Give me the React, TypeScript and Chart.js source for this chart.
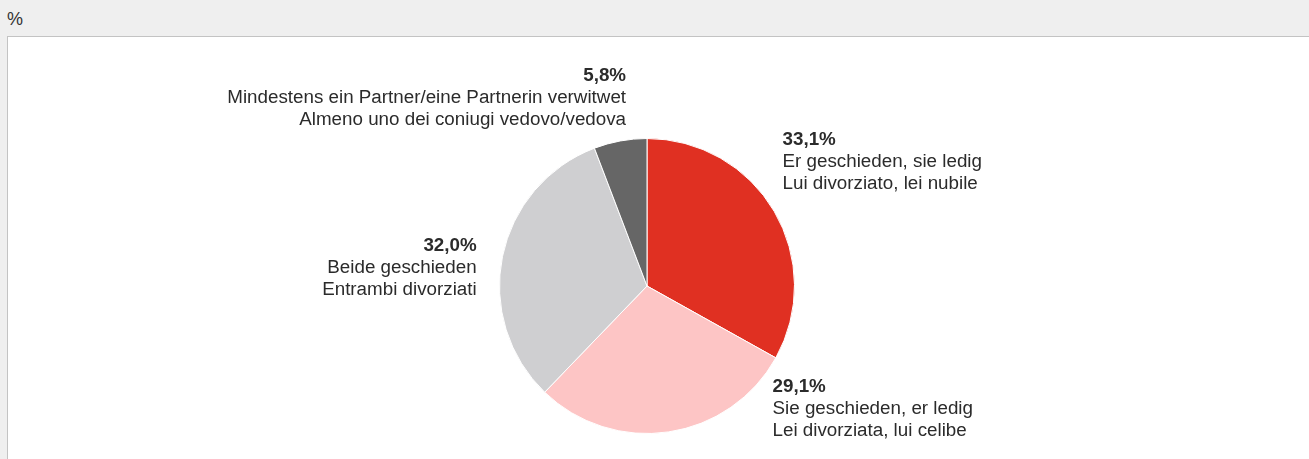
import React, { useEffect, useRef } from "react";
import { Chart, registerables } from "chart.js";

Chart.register(...registerables);

const labelsDe = [
  "Er geschieden, sie ledig",
  "Sie geschieden, er ledig",
  "Beide geschieden",
  "Mindestens ein Partner/eine Partnerin verwitwet",
];
const labelsIt = [
  "Lui divorziato, lei nubile",
  "Lei divorziata, lui celibe",
  "Entrambi divorziati",
  "Almeno uno dei coniugi vedovo/vedova",
];
const values = [33.1, 29.1, 32.0, 5.8];
const colors = ["#e03022", "#fdc5c5", "#cfcfd1", "#666666"];

// label placement relative to pie centre, in units of the radius
const labelPlacement = [
  { dx: 0.919, dy: -0.845, align: "left" },
  { dx: 0.851, dy: 0.834, align: "left" },
  { dx: -1.155, dy: -0.126, align: "right" },
  { dx: -0.142, dy: -1.278, align: "right" },
];

const FONT = "'Liberation Sans', Arial, Helvetica, sans-serif";

const labelPlugin = {
  id: "sliceLabels",
  afterDraw(chart: any) {
    const meta = chart.getDatasetMeta(0);
    const ctx = chart.ctx;
    ctx.save();
    ctx.fillStyle = "#2b2b2b";
    ctx.textBaseline = "middle";
    meta.data.forEach((arc: any, i: number) => {
      const p = labelPlacement[i];
      const r = arc.outerRadius;
      const x = arc.x + p.dx * r;
      const yMid = arc.y + p.dy * r;
      const lh = 22;
      ctx.textAlign = p.align;
      const pct = values[i].toFixed(1).replace(".", ",") + "%";
      ctx.font = `bold 18.8px ${FONT}`;
      ctx.fillText(pct, x, yMid - lh);
      ctx.font = `18.8px ${FONT}`;
      ctx.fillText(labelsDe[i], x, yMid);
      ctx.fillText(labelsIt[i], x, yMid + lh);
    });
    ctx.restore();
  },
};

export default function App() {
  const ref = useRef<HTMLCanvasElement>(null);
  useEffect(() => {
    if (!ref.current) return;
    const chart = new Chart(ref.current, {
      type: "pie",
      data: {
        labels: labelsDe,
        datasets: [
          {
            data: values,
            backgroundColor: colors,
            borderColor: "#ffffff",
            borderWidth: 1,
          },
        ],
      },
      options: {
        animation: false,
        responsive: false,
        maintainAspectRatio: false,
        layout: { padding: { left: 0, right: 23, top: 101, bottom: 25 } },
        plugins: {
          legend: { display: false },
          tooltip: { enabled: false },
        },
      },
      plugins: [labelPlugin],
    });
    return () => chart.destroy();
  }, []);

  return (
    <div
      style={{
        position: "fixed",
        left: 0,
        top: 0,
        width: 1309,
        height: 459,
        background: "#efefef",
        overflow: "hidden",
        fontFamily: FONT,
      }}
    >
      <div
        style={{
          position: "absolute",
          left: 7,
          top: 10,
          fontSize: 18,
          lineHeight: "18px",
          color: "#333",
        }}
      >
        %
      </div>
      <div
        style={{
          position: "absolute",
          left: 7,
          top: 36,
          width: 1320,
          height: 440,
          border: "1px solid #c3c3c3",
          background: "#ffffff",
        }}
      >
        <canvas
          ref={ref}
          width={1301}
          height={422}
          style={{ position: "absolute", left: 0, top: 0, width: 1301, height: 422 }}
        />
      </div>
    </div>
  );
}
